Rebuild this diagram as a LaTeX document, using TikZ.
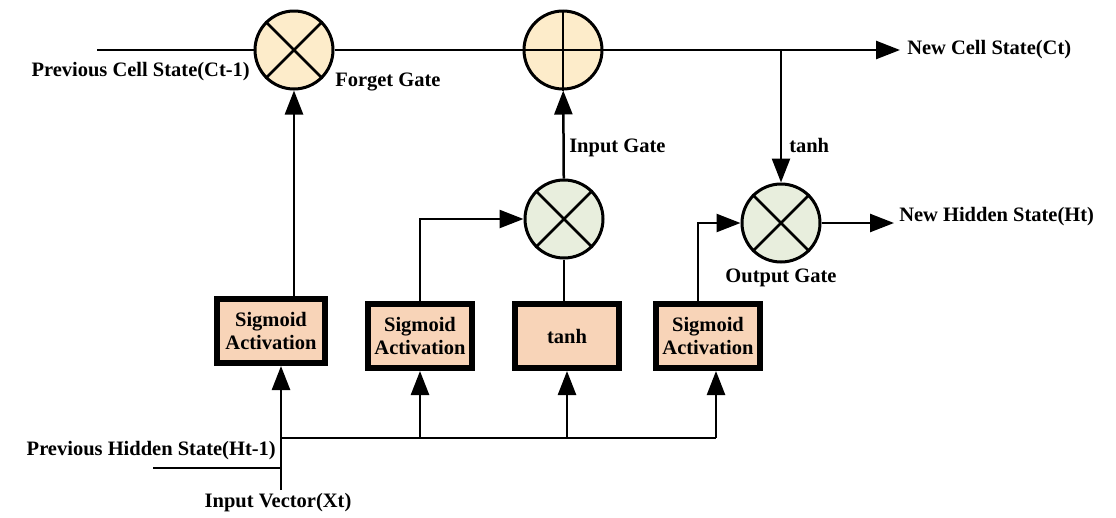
\documentclass[tikz,border=0pt]{standalone}
\usepackage{fontspec}
\setmainfont{Liberation Serif}
\usetikzlibrary{arrows.meta}
\definecolor{cellfill}{RGB}{253,236,202}
\definecolor{gatefill}{RGB}{232,238,221}
\definecolor{actfill}{RGB}{248,212,184}

\begin{document}
\begin{tikzpicture}[x=1pt,y=-1pt,
    font=\fontsize{20.5}{23}\selectfont\bfseries,
    line width=2.5pt,
    arr/.style={-{Triangle[length=24pt,width=18pt]}},
    op/.style={circle,draw,line width=3pt,minimum size=78pt,inner sep=0pt},
    act/.style={draw,line width=6pt,fill=actfill,minimum width=104pt,minimum height=64pt,align=center,inner sep=2pt},
    lbl/.style={inner sep=0pt}]
    \useasboundingbox[fill=white] (0,0) rectangle (1116,517);
    % gates
    \node[op,fill=cellfill] (fg) at (294,50) {};
    \node[op,fill=cellfill] (add) at (563,50) {};
    \node[op,fill=gatefill] (ig) at (564,219) {};
    \node[op,fill=gatefill] (og) at (781,223) {};
    \draw (fg.45) -- (fg.225) (fg.135) -- (fg.315);
    \draw (add.north) -- (add.south) (add.west) -- (add.east);
    \draw (ig.45) -- (ig.225) (ig.135) -- (ig.315);
    \draw (og.45) -- (og.225) (og.135) -- (og.315);
    % activations
    \node[act,minimum width=108pt] (sig1) at (271,331) {Sigmoid\\Activation};
    \node[act] (sig2) at (420,336) {Sigmoid\\Activation};
    \node[act] (th) at (567,336) {tanh};
    \node[act] (sig3) at (708,336) {Sigmoid\\Activation};
    % free ends
    \coordinate (cin) at (97,50);
    \coordinate (cout) at (900,50);
    \coordinate (hout) at (894,223);
    \coordinate (xin) at (281,490);
    \coordinate (hin) at (153,468);
    \coordinate (bus) at (281,438);
    \coordinate (busend) at (716,438);
    % cell state
    \draw (cin) -- (fg);
    \draw (fg) -- (add);
    \draw[arr] (add) -- (cout);
    \draw[arr] (og.north |- cout) -- (og.north);
    % gate inputs
    \draw[arr] (fg |- sig1.north) -- (fg.south);
    \draw[arr] (sig2.north) |- (ig.west);
    \draw (ig |- th.north) -- (ig.south);
    \draw[arr] (ig) -- (add);
    \draw[arr] ([xshift=-10pt]sig3.north) |- (og.west);
    \draw[arr] (og) -- (hout);
    % inputs
    \draw[arr] (xin) -- (xin |- sig1.south);
    \draw (hin) -- (xin |- hin);
    \draw (bus) -- (busend);
    \foreach \b in {sig2,th} \draw[arr] (\b.south |- bus) -- (\b.south);
    \draw[arr] (busend) -- (busend |- sig3.south);
    % labels
    \node[lbl,anchor=east] (pcs) at (251,72) {Previous Cell State(Ct-1)};
    \node[lbl,anchor=west] (fgl) at (334,82) {Forget Gate};
    \node[lbl,anchor=west] (ncs) at (906,50) {New Cell State(Ct)};
    \node[lbl,anchor=west] (igl) at (568,148) {Input Gate};
    \node[lbl,anchor=west] (tl) at (788,145) {tanh};
    \node[lbl,anchor=west] (nhs) at (898,217) {New Hidden State(Ht)};
    \node[lbl] (ogl) at (781,278) {Output Gate};
    \node[lbl,anchor=east] (phs) at (277,451) {Previous Hidden State(Ht-1)};
    \node[lbl] (ivl) at (278,503) {Input Vector(Xt)};
\end{tikzpicture}
\end{document}
